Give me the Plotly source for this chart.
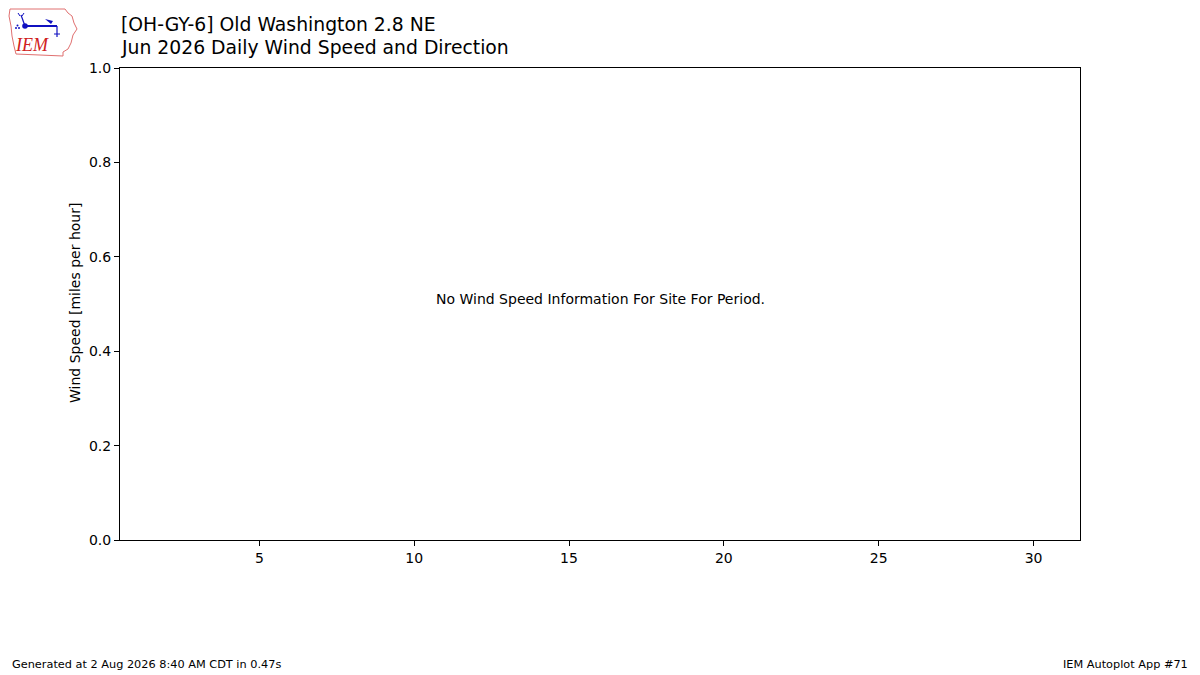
import base64
import plotly.graph_objects as go

# donnees du graphique (aucune observation de vent pour juin 2026)
days = []
wind_speed = []
x_ticks = [5, 10, 15, 20, 25, 30]
y_ticks = [0.0, 0.2, 0.4, 0.6, 0.8, 1.0]

title_line1 = "[OH-GY-6] Old Washington 2.8 NE"
title_line2 = "Jun 2026 Daily Wind Speed and Direction"
y_title = "Wind Speed [miles per hour]"
no_data_msg = "No Wind Speed Information For Site For Period."
footer_left = "Generated at 2 Aug 2026 8:40 AM CDT in 0.47s"
footer_right = "IEM Autoplot App #71"

FONT = "DejaVu Sans"

# zone du graphe dans l'image de reference (pixels)
X0, X1, Y0, Y1 = 120, 1080, 68, 540
PW, PH = X1 - X0, Y1 - Y0


def px(x):  # pixel -> paper en x
    return (x - X0) / PW


def py(y):  # pixel -> paper en y
    return (Y1 - y) / PH


# petit logo IEM dessine en SVG (pas de reseau)
logo_svg = """<svg xmlns='http://www.w3.org/2000/svg' width='72' height='52' viewBox='0 0 72 52'>
<path d='M3,3 L58,3 L61,7 L65,10 L67,17 L70,23 L66,29 L64,37 L61,43 L56,46 L56,50 L9,48 L7,40 L5,30 L4,20 L2,10 Z'
 fill='white' stroke='#e07070' stroke-width='1'/>
<line x1='18' y1='20' x2='50' y2='20' stroke='#1010c0' stroke-width='2'/>
<circle cx='18' cy='20' r='2.8' fill='#1010c0'/>
<line x1='18' y1='20' x2='14' y2='9' stroke='#1010c0' stroke-width='1.2'/>
<line x1='13' y1='10' x2='11' y2='7' stroke='#1010c0' stroke-width='1'/>
<line x1='15' y1='10' x2='17' y2='7' stroke='#1010c0' stroke-width='1'/>
<path d='M38,13 L46,15 L44,18 Z' fill='#1010c0'/>
<line x1='50' y1='20' x2='50' y2='31' stroke='#1010c0' stroke-width='1.2'/>
<line x1='47' y1='28' x2='53' y2='28' stroke='#1010c0' stroke-width='1'/>
<circle cx='9' cy='22' r='1' fill='#1010c0'/>
<circle cx='12' cy='22' r='1' fill='#1010c0'/>
<circle cx='10.5' cy='19.5' r='1' fill='#1010c0'/>
<text x='9' y='45' font-family='Liberation Serif, serif' font-style='italic' font-size='18' fill='#d02020'>IEM</text>
</svg>"""
logo_uri = "data:image/svg+xml;base64," + base64.b64encode(logo_svg.encode()).decode()

fig = go.Figure()
fig.add_trace(go.Scatter(x=days, y=wind_speed, mode="markers", showlegend=False))

# la page ajoute ~8px de marge au body, on compense
fig.update_layout(
    width=1192, height=667,
    margin=dict(l=X0 - 8, r=1192 - (X1 - 8), t=Y0 - 8, b=667 - (Y1 - 8)),
    paper_bgcolor="white", plot_bgcolor="white",
    font=dict(family=FONT, size=14, color="black"),
    showlegend=False,
)

fig.update_xaxes(range=[0.5, 31.5], tickvals=x_ticks, ticks="outside", ticklen=5,
                 tickcolor="black", showline=True, linecolor="black", linewidth=1,
                 mirror=True, showgrid=False, zeroline=False)
fig.update_yaxes(range=[0, 1], tickvals=y_ticks, tickformat=".1f", ticks="outside", ticklen=5,
                 tickcolor="black", showline=True, linecolor="black", linewidth=1,
                 mirror=True, showgrid=False, zeroline=False)

fig.add_annotation(text=title_line1, x=px(119), y=py(24), xref="paper", yref="paper",
                   xanchor="left", yanchor="middle", showarrow=False, font=dict(size=18.8))
fig.add_annotation(text=title_line2, x=px(119), y=py(48), xref="paper", yref="paper",
                   xanchor="left", yanchor="middle", showarrow=False, font=dict(size=18.8))
fig.add_annotation(text=y_title, x=px(75), y=py(303), xref="paper", yref="paper",
                   xanchor="center", yanchor="middle",
                   textangle=-90, showarrow=False, font=dict(size=14))
fig.add_annotation(text=no_data_msg, x=px(600), y=py(299), xref="paper", yref="paper",
                   xanchor="center", yanchor="middle", showarrow=False, font=dict(size=14))
fig.add_annotation(text=footer_left, x=px(10), y=py(664), xref="paper", yref="paper",
                   xanchor="left", yanchor="middle", showarrow=False, font=dict(size=11.3))
fig.add_annotation(text=footer_right, x=px(1190), y=py(664), xref="paper", yref="paper",
                   xanchor="right", yanchor="middle", showarrow=False, font=dict(size=11.3))

fig.add_layout_image(dict(source=logo_uri, xref="paper", yref="paper",
                          x=px(7), y=py(6), sizex=72 / PW, sizey=52 / PH,
                          xanchor="left", yanchor="top", sizing="stretch", layer="above"))

fig.write_html("out.html")
